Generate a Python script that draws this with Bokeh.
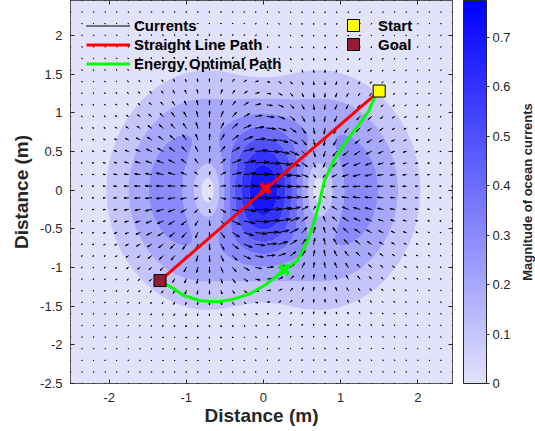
import math
import numpy as np
from bokeh.plotting import figure
from bokeh.layouts import row
from bokeh.models import (ColumnDataSource, LinearColorMapper, ColorBar, FixedTicker,
                          Legend, LegendItem, LinearAxis, Range1d, CustomJSTickFormatter, Title)
from bokeh.embed import file_html
from bokeh.resources import INLINE

FONT = "Liberation Sans"
INK = "#262626"

# ---------------- values ----------------
peak_speed = 0.774            # strongest current (centre of the jet, top of the colour bar)
stagnation_x = 0.72           # calm spots on the x axis at (-0.72, 0) and (0.72, 0)
arrow_spacing = 0.15          # quiver grid step, from -2.5 to 2.45
axis_min, axis_max = -2.5, 2.45
contour_levels = [0.0, 0.1, 0.2, 0.3, 0.4, 0.5, 0.6, 0.7, 0.78]
colorbar_ticks = [0, 0.1, 0.2, 0.3, 0.4, 0.5, 0.6, 0.7]
x_ticks = [-2, -1, 0, 1, 2]
y_ticks = [-2.5, -2, -1.5, -1, -0.5, 0, 0.5, 1, 1.5, 2]

start_x = [1.50]
start_y = [1.28]
goal_x = [-1.34]
goal_y = [-1.17]
straight_x = [1.50, -1.34]
straight_y = [1.28, -1.17]
optimal_x = [1.50, 1.44, 1.37, 1.24, 1.05, 0.90, 0.79, 0.73, 0.66, 0.57, 0.44, 0.27,
             0.05, -0.17, -0.39, -0.60, -0.82, -1.04, -1.17, -1.28, -1.34]
optimal_y = [1.28, 1.20, 1.03, 0.85, 0.60, 0.36, 0.12, -0.14, -0.40, -0.66, -0.91, -1.03,
             -1.21, -1.34, -1.41, -1.445, -1.43, -1.36, -1.27, -1.21, -1.17]
straight_mid_x = [0.03]
straight_mid_y = [0.02]
optimal_mid_x = [0.27]
optimal_mid_y = [-1.03]

# ---------------- colours ----------------
LOW_RGB = (226, 226, 250)
HIGH_RGB = (0, 0, 255)


def mix(t):
    t = min(max(t, 0.0), 1.0)
    r, g, b = (round(LOW_RGB[i] * (1 - t) + HIGH_RGB[i] * t) for i in range(3))
    return "#%02x%02x%02x" % (r, g, b)


palette = [mix(i / 255) for i in range(256)]
band_colors = [mix(lv / peak_speed) for lv in contour_levels[:-1]]

# ---------------- current field (dipole jet model with the read parameters) ----------------
sigma2 = 2 * stagnation_x ** 2


def currents(X, Y):
    E = np.exp(-(X ** 2 + Y ** 2) / sigma2)
    U = peak_speed * (1 - 2 * X ** 2 / sigma2) * E
    V = peak_speed * (-2 * X * Y / sigma2) * E
    return U, V


gx = np.linspace(axis_min, axis_max, 300)
GX, GY = np.meshgrid(gx, gx)
GU, GV = currents(GX, GY)
GM = np.hypot(GU, GV)
lv = list(contour_levels)
lv[0] = min(0.0, float(GM.min())) - 1e-6

# quiver arrows
qx = np.round(np.arange(axis_min, axis_max + 1e-9, arrow_spacing), 6)
QX, QY = np.meshgrid(qx, qx)
QU, QV = currents(QX, QY)
qscale = 0.9 * math.hypot(arrow_spacing, arrow_spacing) / np.hypot(QU, QV).max()
u = (QU * qscale).ravel()
v = (QV * qscale).ravel()
x0 = QX.ravel()
y0 = QY.ravel()
tx = x0 + u
ty = y0 + v
alpha, beta = 0.33, 0.33
seg_x0 = np.concatenate([x0, tx, tx])
seg_y0 = np.concatenate([y0, ty, ty])
seg_x1 = np.concatenate([tx, tx - alpha * (u + beta * v), tx - alpha * (u - beta * v)])
seg_y1 = np.concatenate([ty, ty - alpha * (v - beta * u), ty - alpha * (v + beta * u)])
quiver_src = ColumnDataSource(dict(x0=seg_x0, y0=seg_y0, x1=seg_x1, y1=seg_y1))

# ---------------- main figure ----------------
p = figure(width=515, height=431,
           x_range=Range1d(axis_min, axis_max), y_range=Range1d(axis_min, axis_max),
           output_backend="svg", toolbar_location=None,
           min_border_left=70, min_border_right=63, min_border_top=0, min_border_bottom=48)
p.xgrid.visible = False
p.ygrid.visible = False
p.outline_line_color = INK
p.outline_line_width = 1
p.background_fill_color = mix(0)
p.border_fill_color = "white"

p.contour(gx, gx, GM, levels=lv, fill_color=band_colors)

quiver = p.segment(x0="x0", y0="y0", x1="x1", y1="y1", source=quiver_src,
                   line_color="black", line_width=1, line_cap="round")

straight = p.line(straight_x, straight_y, line_color="#ff0000", line_width=3)
optimal = p.line(optimal_x, optimal_y, line_color="#00ff00", line_width=3)
p.scatter(straight_mid_x, straight_mid_y, marker="x", size=13, line_color="#ff0000", line_width=4.5)
p.scatter(optimal_mid_x, optimal_mid_y, marker="x", size=13, line_color="#00ff00", line_width=4.5)
start = p.scatter(start_x, start_y, marker="square", size=12, fill_color="#ffff00",
                  line_color="black", line_width=1)
goal = p.scatter(goal_x, goal_y, marker="square", size=12, fill_color="#961a30",
                 line_color="black", line_width=1)

plain = CustomJSTickFormatter(code="return String(tick);")
blank = CustomJSTickFormatter(code="return '';")


def style_axis(ax, ticks, label=None, show_labels=True):
    ax.ticker = FixedTicker(ticks=ticks)
    ax.formatter = plain if show_labels else blank
    ax.major_tick_in = 4
    ax.major_tick_out = 0
    ax.minor_tick_line_color = None
    ax.axis_line_color = None
    ax.major_tick_line_color = INK
    ax.major_label_text_font = FONT
    ax.major_label_text_font_size = "13px"
    ax.major_label_text_color = INK
    if label:
        ax.axis_label = label
        ax.axis_label_text_font = FONT
        ax.axis_label_text_font_size = "19px"
        ax.axis_label_text_font_style = "bold"
        ax.axis_label_text_color = INK


style_axis(p.xaxis[0], x_ticks, "Distance (m)")
p.xaxis[0].major_label_standoff = 9
p.xaxis[0].axis_label_standoff = 0
style_axis(p.yaxis[0], y_ticks, "Distance (m)")
p.yaxis[0].major_label_standoff = 8
p.yaxis[0].axis_label_standoff = 5

top_ax = LinearAxis()
style_axis(top_ax, x_ticks, show_labels=False)
top_ax.major_label_standoff = 0
p.add_layout(top_ax, "above")
right_ax = LinearAxis()
style_axis(right_ax, y_ticks, show_labels=False)
right_ax.major_label_standoff = 0
p.add_layout(right_ax, "right")

mapper = LinearColorMapper(palette=palette, low=0, high=peak_speed)
cb = ColorBar(color_mapper=mapper, ticker=FixedTicker(ticks=colorbar_ticks), formatter=plain,
              width=23, padding=0, margin=0, location=(11, 0),
              bar_line_color=INK, major_tick_line_color=INK, major_tick_in=0, major_tick_out=3,
              minor_tick_line_color=None, label_standoff=3,
              major_label_text_font=FONT, major_label_text_font_size="13px",
              major_label_text_color=INK, background_fill_alpha=0, border_line_color=None)
p.add_layout(cb, "right")


def make_legend(items, loc, gw, gh, standoff):
    lg = Legend(items=items, location=loc, orientation="vertical",
                glyph_width=gw, glyph_height=gh, label_height=gh, label_standoff=standoff,
                padding=0, spacing=0, margin=0, border_line_color=None, background_fill_alpha=0,
                label_text_font=FONT, label_text_font_size="15px", label_text_font_style="bold",
                label_text_color="black")
    p.add_layout(lg, "center")


make_legend([LegendItem(label="Currents", renderers=[quiver]),
             LegendItem(label="Straight Line Path", renderers=[straight]),
             LegendItem(label="Energy Optimal Path", renderers=[optimal])],
            (16, 310), 44, 19, 4)
make_legend([LegendItem(label="Start", renderers=[start])], (268, 343), 30, 30, 10)
make_legend([LegendItem(label="Goal", renderers=[goal])], (268, 324), 30, 30, 10)

# ---------------- narrow strip holding the colour-bar caption ----------------
cap = figure(width=20, height=431, output_backend="svg", toolbar_location=None,
             x_axis_location=None, y_axis_location=None,
             min_border_left=19, min_border_right=0, min_border_top=0, min_border_bottom=10)
cap.outline_line_color = None
cap.background_fill_color = "white"
cap.border_fill_color = "white"
for g in cap.grid:
    g.visible = False
cap.add_layout(Title(text="Magnitude of ocean currents", align="center", standoff=0, offset=0,
                     text_font=FONT, text_font_size="13px", text_font_style="bold",
                     text_color=INK), "left")

layout = row(p, cap)
open("out.html", "w").write(file_html(layout, INLINE))
